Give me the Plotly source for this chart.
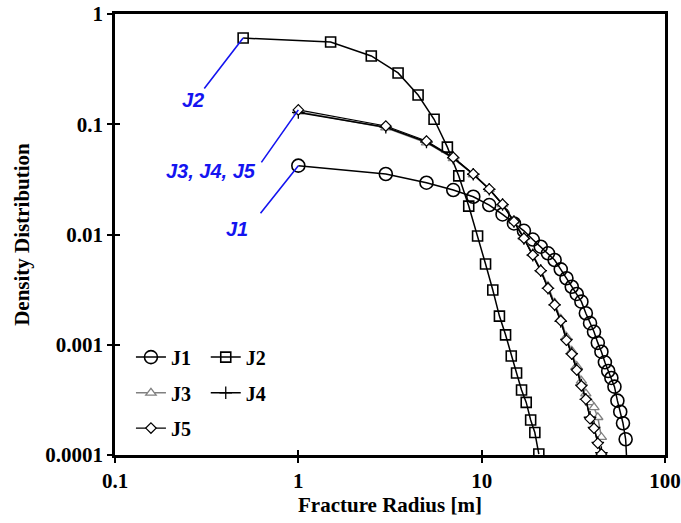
import numpy as np
import plotly.graph_objects as go

# ---------------- data ----------------
j1_x = [1, 3, 5, 7, 9, 11, 13, 15, 17, 19, 21, 23, 25, 27, 29, 31, 33, 35, 37, 39,
        41, 43, 45, 47, 49, 51, 53, 55, 57, 59, 61, 63]
j1_y = [0.0421, 0.0354, 0.0295, 0.0253, 0.0220, 0.0185, 0.0152, 0.0126, 0.0108, 0.0090,
        0.00775, 0.00675, 0.00587, 0.00483, 0.00401, 0.00336, 0.00289, 0.00246, 0.00193,
        0.00157, 0.00131, 0.00104, 0.000865, 0.000693, 0.000578, 0.000500, 0.000417,
        0.000311, 0.000247, 0.000194, 0.000139, 0.00005]

j2_x = [0.5, 1.5, 2.5, 3.5, 4.5, 5.5, 6.5, 7.5, 8.5, 9.5, 10.5, 11.5, 12.5, 13.5, 14.5,
        15.5, 16.5, 17.5, 18.5, 19.5, 20.5]
j2_y = [0.605, 0.557, 0.416, 0.292, 0.184, 0.111, 0.062, 0.034, 0.0181, 0.0097, 0.0054,
        0.00314, 0.00182, 0.00123, 0.00079, 0.000554, 0.000389, 0.000300, 0.000208,
        0.000160, 0.000102]

j345_x = [1, 3, 5, 7, 9, 11, 13, 15, 17, 19, 21, 23, 25, 27, 29, 31, 33, 35, 37, 39, 41, 43, 45]
j3_y = [0.130, 0.093, 0.068, 0.049, 0.0350, 0.0258, 0.0188, 0.0132, 0.0094, 0.0067,
        0.0048, 0.0034, 0.0024, 0.00172, 0.00118, 0.00088, 0.00064, 0.00047, 0.00036,
        0.00030, 0.00027, 0.00022, 0.000145]
j4_y = [0.128, 0.094, 0.069, 0.0495, 0.0352, 0.0257, 0.0187, 0.0131, 0.0092, 0.0065,
        0.0047, 0.00325, 0.0023, 0.00163, 0.00112, 0.00083, 0.00060, 0.00043, 0.00032,
        0.00022, 0.000178, 0.000130, 0.000105]
j5_y = [0.135, 0.0964, 0.0705, 0.0501, 0.0354, 0.0259, 0.0188, 0.0131, 0.00923, 0.00652,
        0.00470, 0.00325, 0.00230, 0.00165, 0.00110, 0.000824, 0.000590, 0.000425,
        0.000320, 0.000213, 0.000175, 0.000128, 0.000102]

x_ticks = [0.1, 1, 10, 100]
x_tick_labels = ["0.1", "1", "10", "100"]
y_ticks = [0.0001, 0.001, 0.01, 0.1, 1]
y_tick_labels = ["0.0001", "0.001", "0.01", "0.1", "1"]

# ---------------- styling ----------------
SERIF = "Liberation Serif"
SANS = "Liberation Sans"
BLUE = "rgb(20,20,240)"
GRAY = "rgb(128,128,128)"

fig = go.Figure()

fig.add_trace(go.Scatter(
    x=j1_x, y=j1_y, name="J1", mode="lines+markers", legend="legend",
    line=dict(color="black", width=1.5),
    marker=dict(symbol="circle-open", size=13, color="black", line=dict(width=1.6))))
fig.add_trace(go.Scatter(
    x=j2_x, y=j2_y, name="J2", mode="lines+markers", legend="legend2",
    line=dict(color="black", width=1.5),
    marker=dict(symbol="square-open", size=10, color="black", line=dict(width=1.6))))
fig.add_trace(go.Scatter(
    x=j345_x, y=j3_y, name="J3", mode="lines+markers", legend="legend3",
    line=dict(color=GRAY, width=1.5),
    marker=dict(symbol="triangle-up", size=9, color="white", line=dict(color=GRAY, width=1.3))))
fig.add_trace(go.Scatter(
    x=j345_x, y=j4_y, name="J4", mode="lines+markers", legend="legend4",
    line=dict(color="black", width=1.5),
    marker=dict(symbol="cross-thin", size=9, color="black", line=dict(color="black", width=1.3))))
fig.add_trace(go.Scatter(
    x=j345_x, y=j5_y, name="J5", mode="lines+markers", legend="legend5",
    line=dict(color="black", width=1.2),
    marker=dict(symbol="diamond", size=8, color="white", line=dict(color="black", width=1.2))))

# overlay axes used only to draw the inner half of the crossing ticks
fig.add_trace(go.Scatter(x=[], y=[], xaxis="x2", yaxis="y2", showlegend=False, hoverinfo="skip"))

tickfont = dict(family=SERIF, size=21, color="black", weight="bold")
titlefont = dict(family=SERIF, size=21, color="black", weight="bold")
xr = [np.log10(x_ticks[0]), np.log10(x_ticks[-1])]
yr = [np.log10(y_ticks[0]), np.log10(y_ticks[-1])]

fig.update_layout(
    template="none",
    width=681, height=523,
    margin=dict(l=115, r=16, t=14, b=68, autoexpand=False),
    paper_bgcolor="white", plot_bgcolor="white",
    xaxis=dict(type="log", range=xr, tickvals=x_ticks, ticktext=x_tick_labels,
               automargin=False,
               showgrid=False, zeroline=False, showline=True, linecolor="black",
               linewidth=2.8, mirror=True, ticks="outside", ticklen=5, tickwidth=2,
               tickcolor="black", tickfont=tickfont,
               title=dict(text="Fracture Radius [m]", font=titlefont, standoff=6)),
    yaxis=dict(type="log", range=yr, tickvals=y_ticks, ticktext=y_tick_labels,
               automargin=False,
               showgrid=False, zeroline=False, showline=True, linecolor="black",
               linewidth=2.8, mirror=True, ticks="outside", ticklen=5, tickwidth=2,
               tickcolor="black", tickfont=tickfont,
               title=dict(text="Density Distribution", font=titlefont, standoff=10)),
    xaxis2=dict(type="log", range=xr, tickvals=x_ticks, overlaying="x", anchor="y",
                side="bottom", showticklabels=False, showgrid=False, zeroline=False,
                automargin=False,
                showline=False, ticks="inside", ticklen=5, tickwidth=2, tickcolor="black"),
    yaxis2=dict(type="log", range=yr, tickvals=y_ticks, overlaying="y", anchor="x",
                side="left", showticklabels=False, showgrid=False, zeroline=False,
                automargin=False,
                showline=False, ticks="inside", ticklen=5, tickwidth=2, tickcolor="black"),
    showlegend=True,
)

legfont = dict(family=SERIF, size=20, color="black", weight="bold")
leg_common = dict(xanchor="left", yanchor="middle", bgcolor="rgba(0,0,0,0)",
                  borderwidth=0, font=legfont, itemwidth=30)
fig.update_layout(
    legend=dict(x=0.029, y=0.222, **leg_common),
    legend2=dict(x=0.165, y=0.222, **leg_common),
    legend3=dict(x=0.029, y=0.141, **leg_common),
    legend4=dict(x=0.165, y=0.141, **leg_common),
    legend5=dict(x=0.029, y=0.061, **leg_common),
)

# ---------------- annotations ----------------
annfont = dict(family=SANS, size=20, color=BLUE, weight="bold", style="italic")
arrow_common = dict(xref="x", yref="y", text="", showarrow=True, arrowhead=0,
                    arrowwidth=1.6, arrowcolor=BLUE, standoff=0, startstandoff=0)
fig.add_annotation(x=np.log10(j2_x[0]), y=np.log10(j2_y[0]), ax=-40, ay=52, **arrow_common)
fig.add_annotation(x=np.log10(j345_x[0]), y=np.log10(j5_y[0]), ax=-38, ay=54, **arrow_common)
fig.add_annotation(x=np.log10(j1_x[0]), y=np.log10(j1_y[0]), ax=-39, ay=49, **arrow_common)

fig.add_annotation(xref="paper", yref="paper", x=0.1418, y=0.805, text="J2",
                   showarrow=False, font=annfont, xanchor="center", yanchor="middle")
fig.add_annotation(xref="paper", yref="paper", x=0.1745, y=0.644, text="J3, J4, J5",
                   showarrow=False, font=annfont, xanchor="center", yanchor="middle")
fig.add_annotation(xref="paper", yref="paper", x=0.222, y=0.5125, text="J1",
                   showarrow=False, font=annfont, xanchor="center", yanchor="middle")

fig.write_html("out.html")
